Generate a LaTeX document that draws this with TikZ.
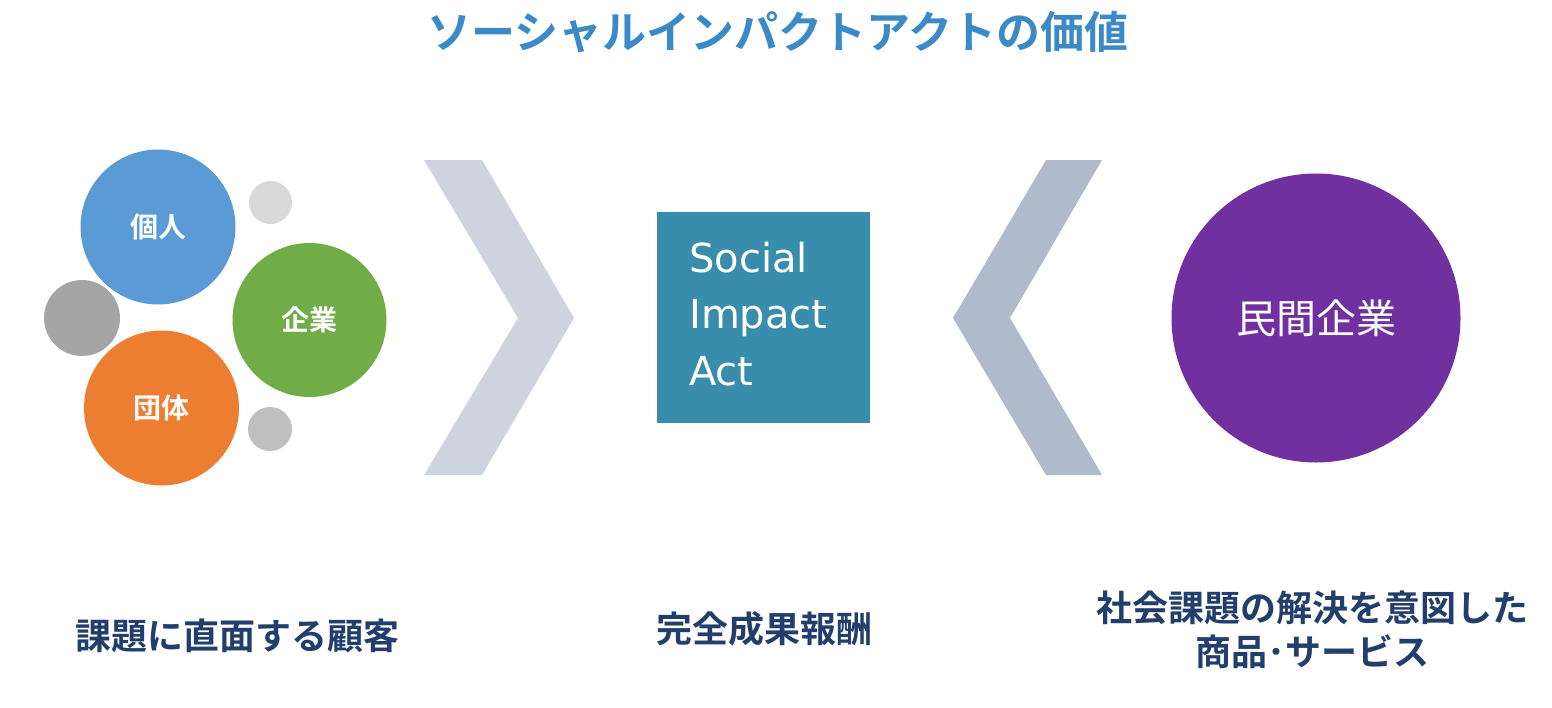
\documentclass[tikz,border=0pt]{standalone}
\usepackage{fontspec}
\newfontfamily\jp{Noto Sans CJK JP}
\newfontfamily\jpb{Noto Sans CJK JP Bold}
\newfontfamily\latn{DejaVu Sans}
\definecolor{titleblue}{RGB}{58,138,200}
\definecolor{navy}{RGB}{34,62,108}
\definecolor{cblue}{RGB}{91,155,213}
\definecolor{cgreen}{RGB}{112,173,71}
\definecolor{corange}{RGB}{237,125,49}
\definecolor{clight}{RGB}{217,217,217}
\definecolor{cmid}{RGB}{191,191,191}
\definecolor{cdark}{RGB}{165,165,165}
\definecolor{chevA}{RGB}{205,212,224}
\definecolor{chevB}{RGB}{175,186,203}
\definecolor{teal}{RGB}{56,141,172}
\definecolor{purple}{RGB}{112,48,160}
\tikzset{
  bub/.style={circle, inner sep=0pt, minimum size=#1},
  bublabel/.style={text=white, font={\jpb\fontsize{28}{30}\selectfont}},
  bottomlabel/.style={text=navy, align=center, font={\jpb\fontsize{36}{44}\selectfont}},
}
\begin{document}
\begin{tikzpicture}[x=1pt, y=-1pt]
\useasboundingbox (0,0) rectangle (1552,707);
% title
\node (title) at (778,32) {\textcolor{titleblue}{\jpb\fontsize{44}{50}\selectfont ソーシャルインパクトアクトの価値}};
% bubbles
\node[bub=43pt, fill=clight] (s1) at (270.5,202.5) {};
\node[bub=76pt, fill=cdark] (s2) at (82,318) {};
\node[bub=44pt, fill=cmid] (s3) at (270,429) {};
\node[bub=155pt, fill=cblue, bublabel] (kojin) at (158,227) {個人};
\node[bub=154pt, fill=cgreen, bublabel] (kigyo) at (309.5,320) {企業};
\node[bub=155pt, fill=corange, bublabel] (dantai) at (161.5,408) {団体};
% chevrons
\fill[chevA] (424,160) -- (482,160) -- (574,318) -- (482,475) -- (424,475) -- (518,318) -- cycle;
\fill[chevB] (1102,160) -- (1046,160) -- (953,318) -- (1046,475) -- (1102,475) -- (1010,318) -- cycle;
% center box
\node[fill=teal, minimum width=213pt, minimum height=211pt, inner sep=0pt] (sia) at (763.5,317.5) {};
\node[anchor=base west, align=left, text=white, inner sep=0pt,
      font={\latn\fontsize{40}{56.5}\selectfont}] (siatext) at (689,385) {Social\\Impact\\Act};
% purple circle
\node[bub=289pt, fill=purple, text=white, font={\jp\fontsize{40}{44}\selectfont}] (minkan) at (1316,318) {民間企業};
% bottom labels
\node[bottomlabel] (lab1) at (237,636) {課題に直面する顧客};
\node[bottomlabel] (lab2) at (764,629) {完全成果報酬};
\node[bottomlabel] (lab3) at (1312,630) {社会課題の解決を意図した\\商品･サービス};
\end{tikzpicture}
\end{document}
